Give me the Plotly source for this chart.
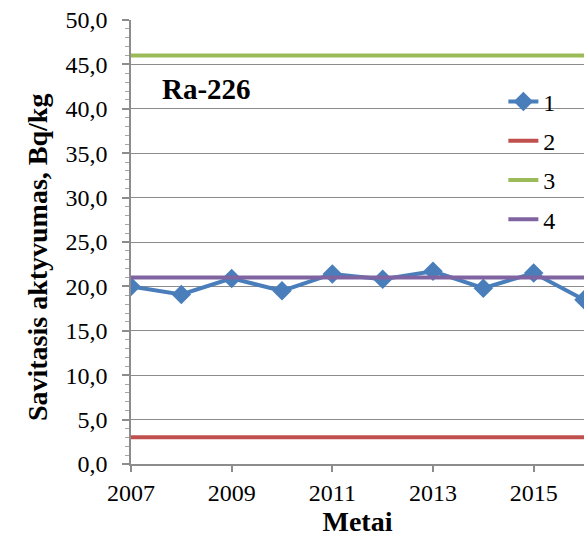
import plotly.graph_objects as go

years = [2007, 2008, 2009, 2010, 2011, 2012, 2013, 2014, 2015, 2016]
series1 = [20.0, 19.1, 20.9, 19.5, 21.4, 20.8, 21.7, 19.8, 21.5, 18.5]
level2 = 3.0
level3 = 46.0
level4 = 21.0
names = ["1", "2", "3", "4"]
colors = ["#4A7EBB", "#C0504D", "#9BBB59", "#8064A2"]

FONT = "Liberation Serif"
GRID = "#8C8C8C"

fig = go.Figure()
fig.add_trace(go.Scatter(x=years, y=series1, name=names[0], mode="lines+markers",
                         line=dict(color=colors[0], width=4),
                         marker=dict(symbol="diamond", size=15, color=colors[0]),
                         legendgroup="g1"))
for i, lvl in enumerate([level2, level3, level4]):
    fig.add_trace(go.Scatter(x=[years[0], years[-1]], y=[lvl, lvl], name=names[i + 1],
                             mode="lines", line=dict(color=colors[i + 1], width=4),
                             legendgroup="g%d" % (i + 2)))

fig.add_annotation(text="<b>Ra-226</b>", x=0.065, y=0.845, xref="paper", yref="paper",
                   xanchor="left", yanchor="middle", showarrow=False,
                   font=dict(family=FONT, size=29, color="black"))
fig.add_annotation(text="<b>Savitasis aktyvumas, Bq/kg</b>", x=-0.2075, y=0.466,
                   xref="paper", yref="paper", xanchor="center", yanchor="middle",
                   textangle=-90, showarrow=False,
                   font=dict(family=FONT, size=28, color="black"))

fig.update_layout(
    width=584, height=538,
    margin=dict(l=131, r=0, t=20, b=74),
    paper_bgcolor="white", plot_bgcolor="white",
    separators=", ",
    font=dict(family=FONT, size=24, color="black"),
    showlegend=True,
    legend=dict(x=0.822, y=0.866, xanchor="left", yanchor="top",
                bgcolor="rgba(0,0,0,0)", tracegroupgap=5,
                font=dict(family=FONT, size=24, color="black")),
    xaxis=dict(range=[2007, 2016], dtick=2, tick0=2007, showgrid=False,
               showline=True, linecolor=GRID, linewidth=1.5,
               ticks="outside", ticklen=6, tickcolor=GRID, tickwidth=1.5,
               title=dict(text="<b>Metai</b>", standoff=0,
                          font=dict(family=FONT, size=28)),
               zeroline=False),
    yaxis=dict(range=[0, 50], dtick=5, tickformat=".1f", showgrid=True,
               gridcolor=GRID, gridwidth=1,
               showline=True, linecolor=GRID, linewidth=1.5,
               ticks="outside", ticklen=7, tickcolor=GRID, tickwidth=1.5,
               ticklabelstandoff=10,
               minor=dict(dtick=1, ticks="outside", ticklen=4, tickcolor="#A6A6A6",
                          tickwidth=1, showgrid=False),
               zeroline=False),
)

fig.write_html("out.html", config={"displayModeBar": False},
               post_script="document.body.style.margin='0';")
